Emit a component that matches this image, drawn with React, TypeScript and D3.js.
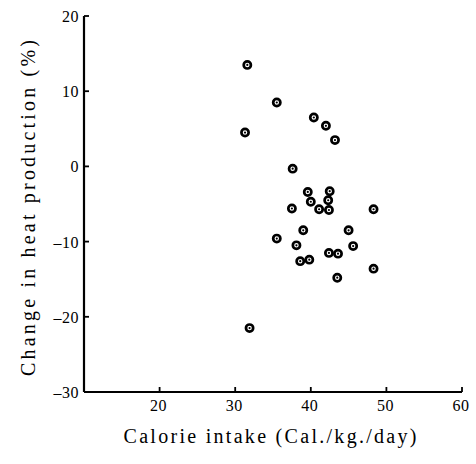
import { useEffect, useRef } from 'react';
import * as d3 from 'd3';

const calorieIntake = [
  31.6, 35.5, 40.4, 42.0, 31.3, 43.2, 37.6, 39.6, 42.5, 40.0, 42.3, 41.1, 42.4, 37.5,
  48.3, 39.0, 45.0, 35.5, 38.1, 45.6, 38.6, 39.8, 42.4, 43.6, 48.3, 43.5, 31.9,
];
const heatChange = [
  13.5, 8.5, 6.5, 5.4, 4.5, 3.5, -0.3, -3.4, -3.3, -4.7, -4.5, -5.7, -5.8, -5.6,
  -5.7, -8.5, -8.5, -9.6, -10.5, -10.6, -12.6, -12.4, -11.5, -11.6, -13.6, -14.8, -21.5,
];
const xTicks = [20, 30, 40, 50, 60];
const yTicks = [20, 10, 0, -10, -20, -30];

const W = 476;
const H = 464;
const FONT = '"Liberation Serif", "DejaVu Serif", serif';

export default function App() {
  const svgRef = useRef<SVGSVGElement>(null);

  useEffect(() => {
    if (!svgRef.current) return;
    const svg = d3.select(svgRef.current);
    svg.selectAll('*').remove();

    const x = d3.scaleLinear().domain([10, 60]).range([84, 462]);
    const y = d3.scaleLinear().domain([-30, 20]).range([392, 16]);

    const g = svg.append('g');

    // axes lines
    g.append('line')
      .attr('x1', x(10)).attr('x2', x(10))
      .attr('y1', y(20)).attr('y2', y(-30))
      .attr('stroke', '#000').attr('stroke-width', 2.2);
    g.append('line')
      .attr('x1', x(10)).attr('x2', x(60))
      .attr('y1', y(-30)).attr('y2', y(-30))
      .attr('stroke', '#000').attr('stroke-width', 2);

    // y ticks (inward)
    g.selectAll('.ytick')
      .data(yTicks)
      .enter()
      .append('line')
      .attr('x1', x(10)).attr('x2', x(10) + 5)
      .attr('y1', d => y(d)).attr('y2', d => y(d))
      .attr('stroke', '#000').attr('stroke-width', 1.8);
    g.selectAll('.ylab')
      .data(yTicks)
      .enter()
      .append('text')
      .attr('x', x(10) - 5)
      .attr('y', d => y(d) + 6)
      .attr('text-anchor', 'end')
      .attr('font-family', FONT)
      .attr('font-size', 16)
      .attr('letter-spacing', 0.5)
      .text(d => (d < 0 ? '\u2013' + Math.abs(d) : String(d)));

    // x ticks (upward)
    g.selectAll('.xtick')
      .data(xTicks)
      .enter()
      .append('line')
      .attr('x1', d => x(d)).attr('x2', d => x(d))
      .attr('y1', y(-30)).attr('y2', y(-30) - 5)
      .attr('stroke', '#000').attr('stroke-width', 1.8);
    g.selectAll('.xlab')
      .data(xTicks)
      .enter()
      .append('text')
      .attr('x', d => x(d) - 1)
      .attr('y', 411)
      .attr('text-anchor', 'middle')
      .attr('font-family', FONT)
      .attr('font-size', 16)
      .attr('letter-spacing', 0.5)
      .text(d => String(d));

    // titles
    g.append('text')
      .attr('x', 270)
      .attr('y', 443)
      .attr('text-anchor', 'middle')
      .attr('font-family', FONT)
      .attr('font-size', 20)
      .attr('textLength', 293)
      .attr('lengthAdjust', 'spacing')
      .text('Calorie intake (Cal./kg./day)');
    g.append('text')
      .attr('transform', `translate(35,${208}) rotate(-90)`)
      .attr('text-anchor', 'middle')
      .attr('font-family', FONT)
      .attr('font-size', 20)
      .attr('textLength', 336)
      .attr('lengthAdjust', 'spacing')
      .text('Change in heat production (%)');

    // points
    const pts = calorieIntake.map((c, i) => ({ c, h: heatChange[i] }));
    const pg = g.selectAll('.pt').data(pts).enter().append('g')
      .attr('transform', d => `translate(${x(d.c)},${y(d.h)})`);
    pg.append('circle')
      .attr('r', 3.6)
      .attr('fill', '#fff')
      .attr('stroke', '#000')
      .attr('stroke-width', 2.7);
    pg.append('circle')
      .attr('r', 1.1)
      .attr('fill', '#000');
  }, []);

  return (
    <svg
      ref={svgRef}
      width={W}
      height={H}
      viewBox={`0 0 ${W} ${H}`}
      style={{ position: 'absolute', left: 0, top: 0, background: '#fff' }}
    />
  );
}
